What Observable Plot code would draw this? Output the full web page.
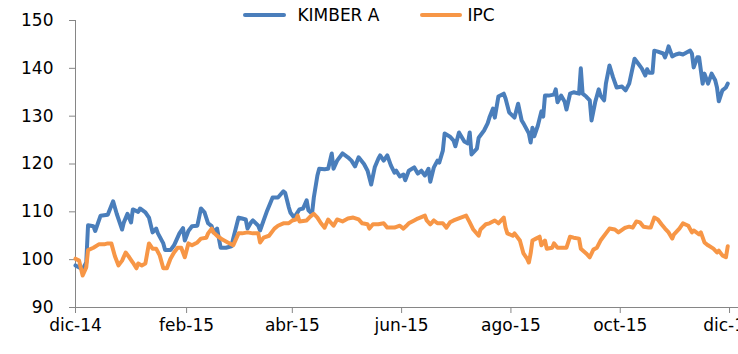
<!DOCTYPE html>
<html>
<head>
<meta charset="utf-8">
<script src="https://cdn.jsdelivr.net/npm/d3@7"></script>
<script src="https://cdn.jsdelivr.net/npm/@observablehq/plot@0.6"></script>
<style>
  html, body { margin: 0; padding: 0; background: #fff; overflow: hidden; }
  #wrap { position: relative; width: 738px; height: 354px; }
  #legend { position: absolute; top: 0; left: 0; width: 738px; height: 30px; display: flex; justify-content: center; align-items: center; font-family: "DejaVu Sans", sans-serif; font-size: 17px; color: #000; }
  .sw { height: 4px; border-radius: 2px; }
</style>
</head>
<body>
<div id="wrap">
  <div id="chart"></div>
  <div id="legend">
    <span class="sw" style="width:43px;background:#4A7EBB;margin-right:11px"></span>
    <span style="margin-right:41px">KIMBER A</span>
    <span class="sw" style="width:42px;background:#F79646;margin-right:5px"></span>
    <span>IPC</span>
  </div>
</div>
<script>
// Series names
const seriesNames = ["KIMBER A", "IPC"];
const seriesColors = ["#4A7EBB", "#F79646"];

// Day offsets from 2014-12-01 and values (base 100)
const kimberDay = [0,4,6,7,10,11,14,18,21,23,26,27,29,31,32,35,36,39,41,43,45,46,49,50,53,55,58,60,61,63,65,68,70,72,74,76,77,79,81,84,87,88,91,93,95,96,98,99,102,103,105,107,110,113,116,117,119,120,122,125,127,129,130,132,133,135,136,139,141,143,144,146,149,152,154,156,158,161,163,165,167,169,170,172,174,176,178,179,181,183,184,186,189,191,193,195,197,198,200,202,203,205,206,209,211,212,214,217,219,220,221,224,225,228,230,231,233,234,236,239,240,242,245,247,249,250,253,254,255,256,258,260,261,262,264,267,268,269,271,273,274,276,278,281,282,283,285,287,288,290,292,293,295,296,298,300,302,305,307,309,312,314,316,318,319,320,322,323,325,328,329,330,331,333,335,337,339,341,343,344,345,347,348,350,351,353,355,357,358,359,361,363,364];
const kimberValue = [98.8,98.0,99.4,107.2,107.0,106.0,109.2,109.4,112.2,109.6,106.3,107.8,109.6,107.8,110.5,110.0,110.7,109.9,108.8,105.7,106.5,105.5,103.4,102.0,102.0,103.0,105.5,106.6,104.0,106.0,107.0,107.1,110.7,109.9,107.6,107.0,105.7,106.5,102.5,102.5,102.8,104.4,108.8,108.6,108.4,106.5,107.8,108.2,107.1,106.1,108.2,110.3,113.0,113.0,114.3,114.0,111.0,109.8,108.8,110.5,110.7,112.4,110.3,109.6,113.0,117.6,119.0,118.9,119.0,122.2,119.0,120.7,122.2,121.4,120.7,119.5,121.4,120.0,118.6,115.7,119.3,121.1,121.8,120.7,121.8,119.7,118.2,118.6,117.4,117.8,116.6,118.6,119.3,118.0,118.6,117.6,119.0,116.3,119.3,120.7,120.3,122.8,126.4,125.7,124.9,123.7,126.6,124.7,124.3,126.6,122.0,123.2,125.5,127.0,128.5,129.7,131.6,129.7,134.1,134.7,133.7,130.8,129.7,132.6,129.1,128.5,126.4,124.5,127.6,125.8,128.0,131.0,129.9,134.3,134.3,134.5,135.6,132.9,134.3,133.0,131.4,134.7,135.0,134.7,140.0,134.7,134.1,133.3,129.1,132.9,135.6,134.3,133.3,136.8,140.6,138.1,136.0,136.2,135.4,136.8,142.0,141.0,140.0,138.5,139.8,139.1,139.1,143.7,143.5,143.1,142.3,143.3,144.6,142.5,142.9,143.1,142.9,143.3,143.7,143.1,140.2,142.3,142.3,136.8,138.9,136.8,138.9,137.5,136.0,133.1,135.4,136.0,136.8];

const ipcDay = [0,2,3,4,6,7,10,13,16,18,20,22,24,26,28,30,32,34,35,37,39,41,43,45,47,49,51,53,55,57,59,61,63,65,68,70,73,74,76,77,79,82,85,88,91,93,96,99,102,103,105,108,111,113,116,119,121,123,124,125,129,131,133,135,137,139,141,144,146,149,152,155,158,160,163,164,166,169,172,174,178,181,183,185,186,189,191,195,196,198,200,202,205,207,209,211,215,218,220,222,225,226,229,231,234,236,239,240,241,244,245,248,250,252,253,254,255,257,259,260,262,263,266,267,269,272,274,276,278,281,282,285,287,289,291,293,296,298,301,303,306,307,309,311,313,315,317,320,321,323,325,327,329,331,333,334,337,339,342,344,345,348,349,351,353,356,358,359,361,363,364];
const ipcValue = [100.2,99.8,98.2,96.7,98.4,102.0,102.5,103.2,103.2,103.4,103.4,100.7,98.8,99.8,101.5,100.5,99.4,98.2,99.2,98.8,99.2,103.4,102.3,102.3,100.9,98.2,98.2,100.2,101.5,102.5,102.5,100.5,103.4,103.0,103.6,104.4,104.6,105.5,106.5,105.7,105.0,104.2,103.6,103.0,105.5,105.5,105.7,105.5,105.5,103.6,104.6,105.0,106.5,107.1,107.6,107.6,108.2,108.4,109.2,108.0,108.2,109.0,109.6,108.8,107.6,106.7,108.4,107.1,108.4,108.0,108.6,108.8,108.4,107.6,107.4,106.5,107.4,107.4,107.6,106.7,106.7,107.1,106.5,107.2,107.6,108.2,108.6,109.2,108.2,107.4,108.2,107.6,107.6,106.7,107.8,108.2,108.8,109.2,107.8,106.3,105.0,106.3,107.4,107.6,108.2,107.6,108.8,106.7,105.5,105.0,105.5,104.0,101.3,100.2,99.4,101.3,104.0,104.4,104.8,103.0,104.0,102.3,102.5,103.4,102.5,102.5,102.5,104.8,104.6,104.4,102.3,101.3,100.5,102.1,102.5,104.0,105.5,106.5,106.3,105.7,106.5,106.7,106.9,106.7,108.0,107.8,106.9,106.7,106.7,108.8,108.4,107.4,106.5,105.7,104.4,105.3,106.5,107.6,107.1,105.7,106.1,105.3,105.7,103.6,103.0,102.3,101.5,101.9,100.9,100.5,102.8];

// Axis ticks
const xTickDates = ["2014-12-01","2015-02-01","2015-04-01","2015-06-01","2015-08-01","2015-10-01","2015-12-01"];
const xTickLabels = ["dic-14","feb-15","abr-15","jun-15","ago-15","oct-15","dic-15"];
const yTicks = [90,100,110,120,130,140,150];

const start = new Date(Date.UTC(2014, 11, 1));
const end = new Date(Date.UTC(2015, 11, 6));
const toRows = (days, vals) => days.map((d, i) => ({date: d3.utcDay.offset(start, d), value: vals[i]}));
const kimber = toRows(kimberDay, kimberValue);
const ipc = toRows(ipcDay, ipcValue);
const tickDates = xTickDates.map(s => new Date(s + "T00:00:00Z"));
const labelMap = new Map(tickDates.map((d, i) => [+d, xTickLabels[i]]));

const chart = Plot.plot({
  width: 738,
  height: 354,
  marginLeft: 75,
  marginRight: 0,
  marginTop: 20,
  marginBottom: 47,
  style: {fontFamily: "DejaVu Sans", fontSize: "17px", color: "#000", background: "#fff"},
  x: {type: "utc", domain: [start, end]},
  y: {domain: [90, 150]},
  marks: [
    Plot.ruleY([90], {stroke: "#868686", strokeWidth: 1}),
    Plot.ruleX([start], {stroke: "#868686", strokeWidth: 1}),
    Plot.axisY({ticks: yTicks, tickSize: 6, tickPadding: 16, stroke: "#868686", label: null, fontSize: 17}),
    Plot.axisX({ticks: tickDates, tickFormat: d => labelMap.get(+d), tickSize: 6, tickPadding: 5, stroke: "#868686", label: null, fontSize: 17}),
    Plot.lineY(kimber, {x: "date", y: "value", stroke: seriesColors[0], strokeWidth: 4}),
    Plot.lineY(ipc, {x: "date", y: "value", stroke: seriesColors[1], strokeWidth: 4})
  ]
});
document.getElementById("chart").appendChild(chart);
</script>
</body>
</html>
